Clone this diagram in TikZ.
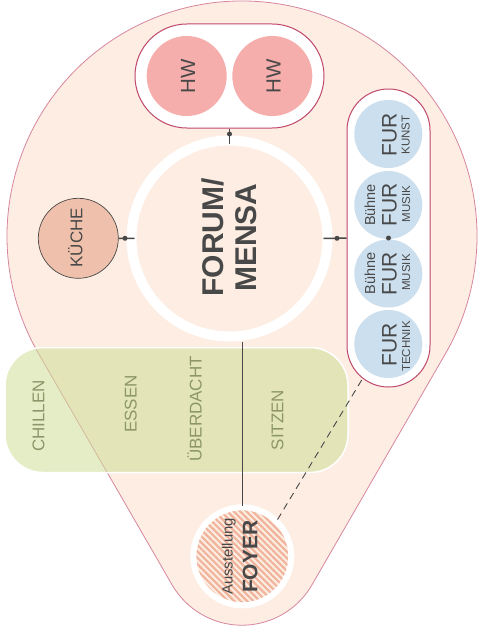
\documentclass[tikz,border=0pt]{standalone}
\usepackage{fontspec}
\setmainfont{Liberation Sans}
\usepackage{tikz}
\usetikzlibrary{patterns.meta}

\definecolor{peach}{RGB}{253,237,226}
\definecolor{rim}{RGB}{214,134,158}
\definecolor{crimson}{RGB}{192,72,108}
\definecolor{hwpink}{RGB}{245,174,172}
\definecolor{kuechefill}{RGB}{239,193,172}
\definecolor{furblue}{RGB}{204,223,238}
\definecolor{ink}{RGB}{72,72,72}
\definecolor{leaf}{RGB}{209,223,155}
\definecolor{leaftext}{RGB}{140,150,104}
\definecolor{hatch}{RGB}{240,180,156}

\newcommand{\furbig}{\fontsize{21}{21}\selectfont}
\newcommand{\fursmall}{\fontsize{11.5}{11.5}\selectfont}
\newcommand{\stagefont}{\fontsize{14.5}{14.5}\selectfont}
\newcommand{\zonefont}{\fontsize{17}{17}\selectfont}

\begin{document}
\begin{tikzpicture}[x=1pt, y=-1pt,
  vtext/.style={rotate=90, inner sep=0pt, anchor=base, text=ink},
  zonetext/.style={rotate=90, inner sep=0pt, anchor=base, text=leaftext, font=\zonefont},
  link/.style={draw=ink, line width=1.5pt},
  joint/.style={circle, fill=ink, inner sep=0pt, minimum size=5pt},
  hwdot/.style={circle, fill=hwpink, inner sep=0pt, minimum size=80pt},
  furdot/.style={circle, fill=furblue, inner sep=0pt, minimum size=68pt}]
\useasboundingbox (0,0) rectangle (480,634);
\draw[draw=rim, fill=peach, line width=0.8pt] (38.5,353.5) arc[start angle=210, end angle=-30, radius=235pt] -- (312,584.8) arc[start angle=330, end angle=210, radius=80.8pt] -- cycle;
\node[draw=white, line width=1.5pt, fill=leaf, fill opacity=0.57, rounded corners=38pt, minimum width=343pt, minimum height=125pt, inner sep=0pt] (greenbox) at (176.5,410) {};

\node[draw=crimson, fill=white, line width=1pt, rounded corners=51.9pt, minimum width=189pt, minimum height=104pt, inner sep=0pt] (hwbox) at (229.5,76) {};
\node[hwdot] (hwleft) at (186.7,76) {};
\node[hwdot] (hwright) at (272.3,76) {};

\node[circle, draw=white, line width=10pt, minimum size=196pt, inner sep=0pt] (forum) at (229.5,238.5) {};
\node[circle, draw=ink, fill=kuechefill, line width=0.7pt, minimum size=80pt, inner sep=0pt] (kueche) at (78.3,238.3) {};

\node[draw=crimson, fill=white, line width=1pt, rounded corners=41.4pt, minimum width=83pt, minimum height=298pt, inner sep=0pt] (furbox) at (388.5,238) {};
\node[furdot] (kunst) at (388.3,134) {};
\node[furdot] (buehneA) at (388.3,205) {};
\node[furdot] (buehneB) at (388.3,273.5) {};
\node[furdot] (technik) at (388.3,344) {};

\node[circle, draw=white, line width=6pt, minimum size=98pt, inner sep=0pt, pattern={Lines[angle=-45, distance=4.5pt, line width=2.2pt]}, pattern color=hatch] (foyer) at (242.3,556.3) {};

\draw[link] (hwbox.south) -- ([yshift=-8pt]forum.north);
\draw[link] (kueche.east) -- ([xshift=8pt]forum.west);
\draw[link] ([xshift=-9pt]forum.east) -- (furbox.west);
\draw[link] (foyer.north) -- (foyer.north |- forum.south);
\coordinate (furtail) at (361.7,380);
\draw[draw=ink, line width=0.9pt, dash pattern=on 7pt off 5pt] (furtail) -- (foyer.46);
\node[joint] (hwjoint) at (229.5,134) {};
\node[joint] (kuechejoint) at (125,238.3) {};
\node[joint] (furjoint) at (337,238.3) {};
\node[joint] (furmid) at (furbox.center) {};

\node[vtext, font=\fontsize{20.5}{20.5}\selectfont] (hwlefttext) at (195,76.7) {HW};
\node[vtext, font=\fontsize{20.5}{20.5}\selectfont] (hwrighttext) at (280.7,76.7) {HW};
\node[vtext, font=\bfseries\fontsize{30}{30}\selectfont] (forumtext) at (223.3,237.5) {FORUM/};
\node[vtext, font=\bfseries\fontsize{30}{30}\selectfont] (mensatext) at (256.7,237.5) {MENSA};
\node[vtext, font=\zonefont] (kuechetext) at (82.3,237.8) {KÜCHE};

\node[vtext, font=\furbig] (kunstfur) at (396.7,134.5) {FUR};
\node[vtext, font=\fursmall] (kunstsub) at (409.5,135) {KUNST};
\node[vtext, font=\stagefont] (buehneAstage) at (375,205) {Bühne};
\node[vtext, font=\furbig] (buehneAfur) at (396.7,205) {FUR};
\node[vtext, font=\fursmall] (buehneAsub) at (410,204) {MUSIK};
\node[vtext, font=\stagefont] (buehneBstage) at (375,273.5) {Bühne};
\node[vtext, font=\furbig] (buehneBfur) at (396.7,273.5) {FUR};
\node[vtext, font=\fursmall] (buehneBsub) at (410,272.5) {MUSIK};
\node[vtext, font=\furbig] (technikfur) at (396.7,345) {FUR};
\node[vtext, font=\fursmall] (techniksub) at (410,346.5) {TECHNIK};

\node[zonetext] (chillen) at (44.3,416) {CHILLEN};
\node[zonetext] (essen) at (136.7,404) {ESSEN};
\node[zonetext] (ueberdacht) at (201.7,409) {ÜBERDACHT};
\node[zonetext] (sitzen) at (283.3,420) {SITZEN};

\node[vtext, font=\fontsize{14.8}{14.8}\selectfont] (ausstellung) at (232.5,556.5) {Ausstellung};
\node[vtext, font=\bfseries\fontsize{21}{21}\selectfont] (foyertext) at (257.3,556.7) {FOYER};
\end{tikzpicture}
\end{document}
